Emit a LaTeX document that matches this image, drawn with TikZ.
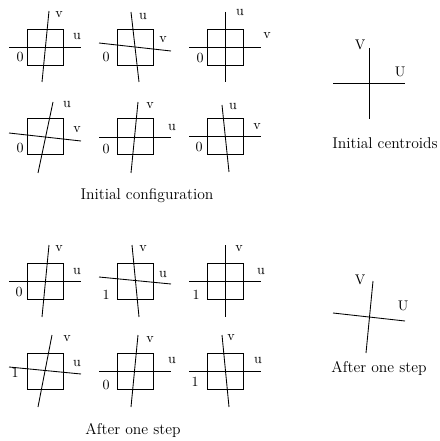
\documentclass[tikz,border=0pt]{standalone}
\usepackage{tikz}
\usetikzlibrary{positioning}

\tikzset{
  cellbox/.style={line width=0.65pt},
  axisline/.style={line width=0.65pt},
  lbl/.style={font=\fontsize{10.5}{12}\selectfont, inner sep=0pt},
  captext/.style={font=\fontsize{11.7}{14}\selectfont, inner sep=0pt}
}

\begin{document}
\begin{tikzpicture}[x=0.75pt, y=-0.75pt]
  \useasboundingbox (0,0) rectangle (439,441);

  % the twelve squares
  \foreach \cx in {45,135,225}
    \foreach \cy in {47,136,281,371}
      \draw[cellbox] (\cx-18,\cy-18) rectangle (\cx+18,\cy+18);

  % Initial configuration, first row
  \draw[axisline] (9,47) -- (81,47);
  \draw[axisline] (49,11) -- (42,82);
  \node[lbl] (iav) at (59,15) {v};
  \node[lbl] (iau) at (77,36) {u};
  \node[lbl] (ian) at (20,57) {0};

  \draw[axisline] (99,43) -- (171,51);
  \draw[axisline] (131,12) -- (139,82);
  \node[lbl] (ibu) at (143,16) {u};
  \node[lbl] (ibv) at (163,40) {v};
  \node[lbl] (ibn) at (106,57) {0};

  \draw[axisline] (189,47) -- (261,47);
  \draw[axisline] (225,12) -- (225,82);
  \node[lbl] (icu) at (240,12) {u};
  \node[lbl] (icv) at (267,36) {v};
  \node[lbl] (icn) at (200,58) {0};

  % Initial configuration, second row
  \draw[axisline] (9,133) -- (81,141);
  \draw[axisline] (53,102) -- (38,173);
  \node[lbl] (idu) at (67,104) {u};
  \node[lbl] (idv) at (77,130) {v};
  \node[lbl] (idn) at (20,148) {0};

  \draw[axisline] (99,137) -- (171,137);
  \draw[axisline] (138,102) -- (131,173);
  \node[lbl] (iev) at (150,106) {v};
  \node[lbl] (ieu) at (172,127) {u};
  \node[lbl] (ien) at (106,149) {0};

  \draw[axisline] (189,136) -- (261,136);
  \draw[axisline] (222,105) -- (229,172);
  \node[lbl] (ifu) at (233,106) {u};
  \node[lbl] (ifv) at (257,127) {v};
  \node[lbl] (ifn) at (199,147) {0};

  \node[captext] (initcfg) at (147,196) {Initial configuration};

  % Initial centroids
  \draw[axisline] (333,83) -- (405,83);
  \draw[axisline] (369,48) -- (369,119);
  \node[lbl] (icV) at (360,45) {V};
  \node[lbl] (icU) at (400,72) {U};
  \node[captext] (initcen) at (385,143) {Initial centroids};

  % After one step, first row
  \draw[axisline] (9,281) -- (81,281);
  \draw[axisline] (49,245) -- (42,317);
  \node[lbl] (sav) at (59,249) {v};
  \node[lbl] (sau) at (77,271) {u};
  \node[lbl] (san) at (19,292) {0};

  \draw[axisline] (99,277) -- (171,284);
  \draw[axisline] (132,245) -- (139,317);
  \node[lbl] (sbv) at (143,249) {v};
  \node[lbl] (sbu) at (163,274) {u};
  \node[lbl] (sbn) at (106,295) {1};

  \draw[axisline] (189,281) -- (261,281);
  \draw[axisline] (225,245) -- (225,317);
  \node[lbl] (scv) at (239,249) {v};
  \node[lbl] (scu) at (261,271) {u};
  \node[lbl] (scn) at (196,295) {1};

  % After one step, second row
  \draw[axisline] (9,367) -- (81,374);
  \draw[axisline] (52,335) -- (38,407);
  \node[lbl] (sdv) at (67,339) {v};
  \node[lbl] (sdu) at (77,363) {u};
  \node[lbl] (sdn) at (15,373) {1};

  \draw[axisline] (99,371) -- (171,371);
  \draw[axisline] (138,335) -- (131,407);
  \node[lbl] (sev) at (150,340) {v};
  \node[lbl] (seu) at (172,360) {u};
  \node[lbl] (sen) at (106,385) {0};

  \draw[axisline] (189,371) -- (261,371);
  \draw[axisline] (222,335) -- (229,407);
  \node[lbl] (sfv) at (231,338) {v};
  \node[lbl] (sfu) at (258,360) {u};
  \node[lbl] (sfn) at (195,382) {1};

  \node[captext] (stepcfg) at (133,430) {After one step};

  % Centroids after one step
  \draw[axisline] (333,313) -- (405,321);
  \draw[axisline] (373,281) -- (366,353);
  \node[lbl] (scV) at (360,280) {V};
  \node[lbl] (scU) at (403,306) {U};
  \node[captext] (stepcen) at (379,368) {After one step};
\end{tikzpicture}
\end{document}
